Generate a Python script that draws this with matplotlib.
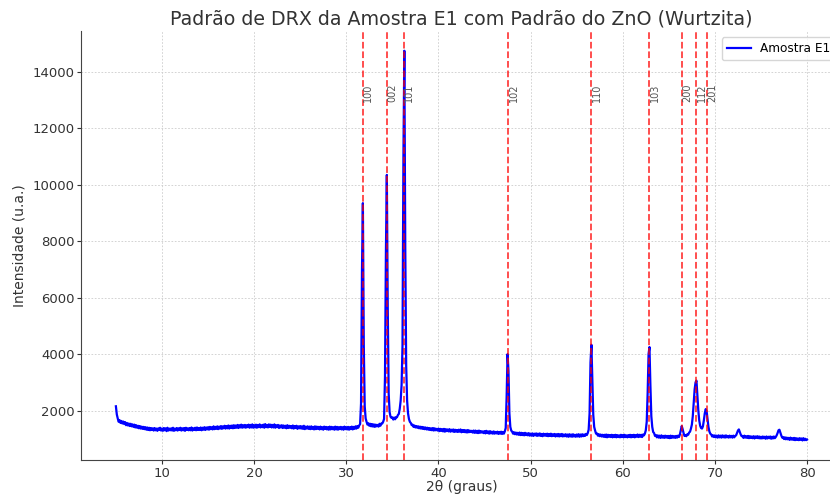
import numpy as np
import matplotlib
matplotlib.use("Agg")
import matplotlib.pyplot as plt

# 2theta grid (5.0 .. 80.0, step 0.1) and intensities, one row per degree
two_theta = np.round(np.arange(5.0, 80.05, 0.1), 1)
intensidade = [
    2150, 1860, 1720, 1600, 1660, 1560, 1630, 1540, 1610, 1520,  # 5
    1590, 1480, 1560, 1470, 1540, 1450, 1530, 1440, 1510, 1420,  # 6
    1500, 1400, 1480, 1390, 1460, 1370, 1450, 1360, 1430, 1350,  # 7
    1420, 1340, 1410, 1320, 1400, 1310, 1390, 1300, 1380, 1310,  # 8
    1370, 1290, 1380, 1300, 1360, 1280, 1370, 1310, 1390, 1290,  # 9
    1360, 1280, 1380, 1300, 1370, 1270, 1390, 1290, 1360, 1300,  # 10
    1370, 1290, 1390, 1280, 1360, 1300, 1380, 1290, 1370, 1310,  # 11
    1390, 1290, 1370, 1300, 1380, 1280, 1390, 1310, 1370, 1300,  # 12
    1380, 1300, 1400, 1290, 1370, 1310, 1390, 1300, 1400, 1310,  # 13
    1380, 1310, 1400, 1300, 1390, 1320, 1410, 1310, 1400, 1330,  # 14
    1410, 1320, 1420, 1340, 1410, 1330, 1440, 1340, 1420, 1350,  # 15
    1440, 1340, 1430, 1360, 1450, 1350, 1440, 1370, 1460, 1360,  # 16
    1450, 1370, 1470, 1360, 1460, 1380, 1470, 1370, 1480, 1380,  # 17
    1470, 1390, 1490, 1380, 1480, 1400, 1500, 1390, 1480, 1400,  # 18
    1490, 1390, 1480, 1410, 1500, 1390, 1490, 1400, 1510, 1390,  # 19
    1480, 1400, 1500, 1390, 1490, 1410, 1510, 1400, 1480, 1410,  # 20
    1500, 1390, 1520, 1410, 1490, 1400, 1510, 1420, 1500, 1400,  # 21
    1490, 1400, 1510, 1390, 1480, 1410, 1490, 1380, 1470, 1400,  # 22
    1480, 1380, 1470, 1390, 1460, 1370, 1480, 1380, 1460, 1390,  # 23
    1450, 1370, 1470, 1360, 1450, 1380, 1460, 1350, 1440, 1370,  # 24
    1450, 1360, 1440, 1350, 1460, 1340, 1430, 1360, 1440, 1350,  # 25
    1430, 1340, 1440, 1350, 1420, 1330, 1440, 1340, 1430, 1350,  # 26
    1420, 1330, 1430, 1340, 1410, 1320, 1430, 1350, 1420, 1330,  # 27
    1410, 1320, 1430, 1330, 1420, 1340, 1410, 1320, 1430, 1330,  # 28
    1420, 1320, 1410, 1340, 1420, 1330, 1410, 1320, 1430, 1340,  # 29
    1410, 1330, 1420, 1320, 1410, 1340, 1430, 1330, 1420, 1350,  # 30
    1440, 1360, 1450, 1390, 1470, 1520, 2250, 6900, 9350, 4300,  # 31
    2150, 1720, 1600, 1500, 1550, 1460, 1530, 1440, 1520, 1430,  # 32
    1510, 1420, 1500, 1440, 1490, 1430, 1530, 1460, 1540, 1540,  # 33
    1600, 1700, 3200, 7600, 10350, 5600, 2600, 1950, 1780, 1740,  # 34
    1760, 1680, 1750, 1690, 1770, 1760, 1840, 1880, 2060, 2350,  # 35
    2900, 4300, 11000, 14750, 7800, 3600, 2350, 1900, 1700, 1600,  # 36
    1560, 1480, 1500, 1420, 1470, 1400, 1450, 1390, 1440, 1370,  # 37
    1430, 1360, 1420, 1350, 1410, 1340, 1400, 1330, 1390, 1320,  # 38
    1380, 1310, 1370, 1300, 1380, 1290, 1370, 1300, 1350, 1290,  # 39
    1360, 1270, 1350, 1280, 1340, 1260, 1350, 1250, 1340, 1270,  # 40
    1330, 1260, 1340, 1250, 1320, 1260, 1330, 1240, 1320, 1250,  # 41
    1310, 1240, 1320, 1250, 1330, 1230, 1310, 1240, 1310, 1230,  # 42
    1300, 1220, 1310, 1230, 1290, 1240, 1280, 1220, 1290, 1210,  # 43
    1290, 1210, 1280, 1200, 1290, 1210, 1270, 1220, 1260, 1200,  # 44
    1270, 1190, 1280, 1200, 1260, 1180, 1270, 1190, 1250, 1180,  # 45
    1260, 1180, 1240, 1190, 1250, 1170, 1240, 1180, 1250, 1170,  # 46
    1240, 1180, 1260, 1380, 2500, 4000, 3400, 1900, 1420, 1290,  # 47
    1250, 1180, 1230, 1160, 1220, 1150, 1210, 1140, 1220, 1130,  # 48
    1210, 1130, 1200, 1120, 1210, 1130, 1190, 1120, 1200, 1110,  # 49
    1180, 1110, 1190, 1100, 1180, 1120, 1190, 1100, 1180, 1110,  # 50
    1190, 1100, 1170, 1090, 1180, 1110, 1170, 1100, 1180, 1090,  # 51
    1170, 1100, 1180, 1090, 1160, 1100, 1170, 1080, 1160, 1090,  # 52
    1170, 1080, 1160, 1090, 1170, 1080, 1150, 1090, 1160, 1080,  # 53
    1150, 1070, 1160, 1080, 1150, 1070, 1160, 1080, 1140, 1070,  # 54
    1150, 1080, 1160, 1070, 1150, 1080, 1160, 1090, 1150, 1100,  # 55
    1170, 1130, 1200, 1320, 1900, 3700, 4330, 3100, 1850, 1420,  # 56
    1290, 1180, 1190, 1110, 1160, 1090, 1150, 1080, 1140, 1070,  # 57
    1140, 1060, 1150, 1050, 1140, 1070, 1130, 1060, 1140, 1050,  # 58
    1130, 1060, 1140, 1050, 1130, 1060, 1120, 1050, 1140, 1060,  # 59
    1130, 1050, 1140, 1060, 1120, 1050, 1130, 1060, 1140, 1050,  # 60
    1130, 1060, 1140, 1050, 1130, 1070, 1150, 1060, 1140, 1070,  # 61
    1140, 1060, 1150, 1120, 1180, 1300, 1600, 2600, 4000, 4250,  # 62
    2900, 1800, 1420, 1240, 1200, 1100, 1130, 1050, 1120, 1040,  # 63
    1110, 1030, 1120, 1040, 1100, 1030, 1110, 1040, 1100, 1030,  # 64
    1100, 1020, 1110, 1030, 1100, 1040, 1090, 1030, 1100, 1040,  # 65
    1110, 1060, 1150, 1300, 1450, 1340, 1200, 1100, 1130, 1090,  # 66
    1160, 1140, 1220, 1250, 1360, 1500, 1800, 2250, 2750, 3000,  # 67
    3060, 2550, 2000, 1650, 1460, 1380, 1360, 1440, 1650, 1900,  # 68
    2050, 1980, 1700, 1420, 1260, 1180, 1150, 1080, 1120, 1060,  # 69
    1120, 1050, 1110, 1040, 1120, 1050, 1110, 1040, 1120, 1050,  # 70
    1110, 1040, 1120, 1050, 1100, 1040, 1110, 1050, 1100, 1040,  # 71
    1110, 1050, 1100, 1120, 1200, 1290, 1330, 1240, 1150, 1090,  # 72
    1100, 1030, 1110, 1040, 1090, 1030, 1100, 1020, 1090, 1030,  # 73
    1080, 1020, 1090, 1010, 1080, 1030, 1090, 1020, 1080, 1010,  # 74
    1070, 1010, 1080, 1020, 1070, 1000, 1080, 1010, 1070, 1020,  # 75
    1080, 1000, 1070, 1010, 1080, 1020, 1060, 1120, 1200, 1300,  # 76
    1320, 1220, 1120, 1040, 1060, 990, 1050, 980, 1040, 980,     # 77
    1030, 960, 1040, 970, 1020, 960, 1030, 950, 1020, 960,       # 78
    1010, 950, 1020, 960, 1010, 940, 1020, 950, 1000, 950,       # 79
    970,                                                         # 80
]

# ZnO wurtzita reference peaks
picos_zno = [31.77, 34.42, 36.25, 47.54, 56.60, 62.86, 66.38, 67.96, 69.10]
hkl = ["100", "002", "101", "102", "110", "103", "200", "112", "201"]

fig = plt.figure(figsize=(8.3, 4.97), dpi=100)
ax = fig.add_axes([0.098, 0.0746, 0.916, 0.8625])

ax.plot(two_theta, intensidade, color='blue', linewidth=1.6, label='Amostra E1')

for pos, rotulo in zip(picos_zno, hkl):
    ax.axvline(pos, color='red', linestyle='--', linewidth=1.3, alpha=0.75)
    ax.text(pos + 0.6, 13250, rotulo, rotation=90, ha='center', va='center',
            fontsize=7, color='#555555')

ax.set_title('Padrão de DRX da Amostra E1 com Padrão do ZnO (Wurtzita)',
             fontsize=13.7, color='#333333', pad=5)
ax.set_xlabel('2θ (graus)', fontsize=10, color='#333333', labelpad=0)
ax.set_ylabel('Intensidade (u.a.)', fontsize=10, color='#333333')
ax.tick_params(labelsize=9.5, colors='#333333', length=3, pad=2)
ax.grid(True, linestyle=(0, (2, 2)), linewidth=0.6, color='#cccccc')
ax.spines['top'].set_visible(False)
ax.spines['right'].set_visible(False)
for s in ['left', 'bottom']:
    ax.spines[s].set_color('#444444')
ax.legend(loc='upper right', fontsize=8.7)

fig.savefig('out.png', dpi=100)
